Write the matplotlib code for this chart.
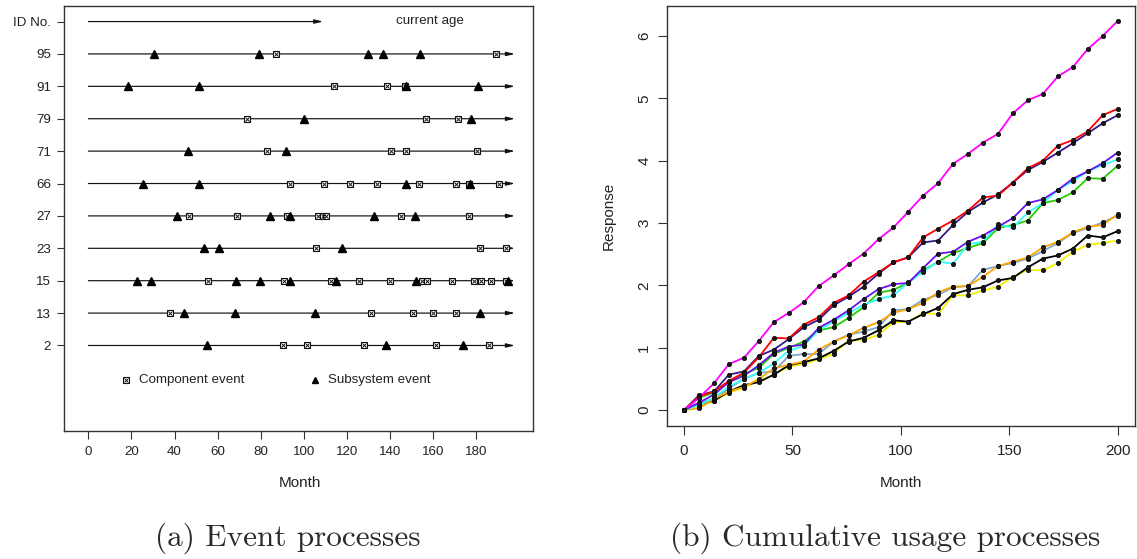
import matplotlib
matplotlib.use("Agg")
import matplotlib.pyplot as plt

plt.rcParams['font.family'] = ['Liberation Sans', 'DejaVu Sans']

# ---------------- Panel (a): event processes ----------------
unit_ids = ['2', '13', '15', '23', '27', '66', '71', '79', '91', '95']
component_events = [
    [90.2, 101.5, 127.9, 161.2, 185.8],
    [38.1, 131.0, 150.7, 160.0, 170.8],
    [55.5, 90.8, 112.5, 125.8, 140.0, 154.7, 157.2, 168.9, 179.1, 182.2, 186.7, 193.8],
    [105.5, 181.8, 193.7],
    [46.7, 69.0, 92.0, 106.7, 108.8, 110.5, 145.0, 176.5],
    [93.8, 109.2, 121.6, 134.0, 153.6, 170.5, 176.5, 190.7],
    [83.0, 140.5, 147.4, 180.2],
    [73.5, 156.6, 171.4],
    [114.2, 138.5, 147.1],
    [87.1, 189.2],
]
subsystem_events = [
    [55.2, 138.1, 174.0],
    [44.3, 68.2, 105.2, 181.8],
    [22.4, 29.2, 68.4, 79.8, 93.6, 114.9, 152.1, 194.6],
    [53.8, 60.5, 117.9],
    [41.3, 84.3, 93.6, 132.7, 151.5],
    [25.5, 51.4, 147.6, 177.2],
    [46.4, 91.8],
    [100.1, 177.6],
    [18.3, 51.5, 147.6, 180.8],
    [30.5, 79.4, 129.6, 136.6, 154.1],
]
current_age = [198, 198, 198, 198, 198, 198, 198, 198, 198, 198]
header_label = 'ID No.'
x_ticks_a = [0, 20, 40, 60, 80, 100, 120, 140, 160, 180]

# ---------------- Panel (b): cumulative usage ----------------
months_b = [0, 6.9, 13.8, 20.7, 27.6, 34.5, 41.4, 48.3, 55.2, 62.1, 69.0, 75.9,
            82.8, 89.7, 96.6, 103.4, 110.3, 117.2, 124.1, 131.0, 137.9, 144.8,
            151.7, 158.6, 165.5, 172.4, 179.3, 186.2, 193.1, 200.0]
usage_magenta = [0, 0.20, 0.43, 0.74, 0.84, 1.11, 1.41, 1.56, 1.73, 1.99, 2.16, 2.34, 2.51, 2.74, 2.93,
                 3.18, 3.44, 3.64, 3.95, 4.11, 4.29, 4.43, 4.76, 4.97, 5.07, 5.35, 5.50, 5.79, 6.00, 6.24]
usage_red = [0, 0.22, 0.30, 0.47, 0.60, 0.85, 1.16, 1.15, 1.37, 1.49, 1.72, 1.84, 2.06, 2.21, 2.37,
             2.45, 2.77, 2.91, 3.04, 3.20, 3.41, 3.44, 3.65, 3.88, 4.00, 4.24, 4.33, 4.47, 4.73, 4.83]
usage_darkblue = [0, 0.24, 0.30, 0.57, 0.62, 0.87, 0.97, 1.14, 1.33, 1.45, 1.68, 1.82, 1.98, 2.19, 2.37,
                  2.45, 2.69, 2.72, 2.97, 3.18, 3.33, 3.46, 3.65, 3.85, 3.98, 4.13, 4.28, 4.44, 4.60, 4.73]
usage_violet = [0, 0.12, 0.25, 0.45, 0.55, 0.72, 0.92, 1.02, 1.05, 1.32, 1.45, 1.60, 1.78, 1.94, 2.02,
                2.04, 2.28, 2.51, 2.54, 2.70, 2.80, 2.94, 3.08, 3.32, 3.38, 3.53, 3.71, 3.83, 3.96, 4.13]
usage_cyan = [0, 0.08, 0.20, 0.38, 0.50, 0.60, 0.75, 0.95, 1.03, 1.28, 1.42, 1.56, 1.69, 1.78, 1.84,
              2.05, 2.22, 2.38, 2.35, 2.66, 2.70, 2.98, 2.93, 3.17, 3.32, 3.53, 3.67, 3.83, 3.93, 4.02]
usage_green = [0, 0.20, 0.28, 0.45, 0.58, 0.68, 0.90, 1.00, 1.10, 1.28, 1.33, 1.48, 1.65, 1.88, 1.93,
               2.04, 2.24, 2.38, 2.52, 2.60, 2.68, 2.92, 2.97, 3.04, 3.32, 3.37, 3.49, 3.72, 3.71, 3.92]
usage_orange = [0, 0.03, 0.18, 0.30, 0.37, 0.50, 0.67, 0.73, 0.78, 0.97, 1.10, 1.20, 1.32, 1.41, 1.56,
                1.62, 1.72, 1.89, 1.98, 1.99, 2.14, 2.31, 2.38, 2.45, 2.61, 2.70, 2.85, 2.94, 2.97, 3.14]
usage_steel = [0, 0.12, 0.18, 0.35, 0.50, 0.60, 0.62, 0.87, 0.90, 0.90, 1.10, 1.21, 1.26, 1.33, 1.60,
               1.62, 1.77, 1.85, 1.97, 1.99, 2.25, 2.31, 2.36, 2.43, 2.55, 2.68, 2.84, 2.92, 3.01, 3.12]
usage_black = [0, 0.10, 0.15, 0.30, 0.40, 0.45, 0.57, 0.72, 0.77, 0.83, 0.95, 1.10, 1.16, 1.28, 1.44,
               1.42, 1.54, 1.64, 1.86, 1.93, 1.97, 2.08, 2.12, 2.29, 2.43, 2.48, 2.59, 2.80, 2.77, 2.87]
usage_yellow = [0, 0.05, 0.15, 0.28, 0.36, 0.47, 0.57, 0.70, 0.74, 0.82, 0.90, 1.12, 1.12, 1.21, 1.41,
                1.41, 1.56, 1.54, 1.84, 1.84, 1.92, 1.98, 2.14, 2.25, 2.24, 2.36, 2.54, 2.65, 2.68, 2.72]
series_b = [usage_yellow, usage_black, usage_steel, usage_orange, usage_green,
            usage_cyan, usage_violet, usage_darkblue, usage_red, usage_magenta]
colors_b = ['#F2F200', '#000000', '#7FA8CC', '#FFA500', '#22CC00',
            '#33FFFF', '#6A10F5', '#35178A', '#FF0000', '#FF00FF']

W, H = 1137, 559
fig = plt.figure(figsize=(W / 100, H / 100), dpi=100)
edge = '#333333'
tc = '#222222'

# ---- panel a ----
axL = fig.add_axes([64 / W, 1 - 431 / H, (533 - 64) / W, (431 - 6) / H])
axL.set_xlim(-11.3, 206.4)
axL.set_ylim(-1.64, 11.48)
n = len(unit_ids)
arrow_style = '-|>,head_length=0.5,head_width=0.12'
for k in range(n):
    y = k + 1
    axL.annotate('', xy=(current_age[k], y), xytext=(0, y),
                 arrowprops=dict(arrowstyle=arrow_style, lw=0.85, color='#111111',
                                 shrinkA=0, shrinkB=0))
    ce = component_events[k]
    axL.plot(ce, [y] * len(ce), linestyle='none', marker='s', ms=4.9,
             mfc='white', mec='#111111', mew=0.8, zorder=3)
    axL.plot(ce, [y] * len(ce), linestyle='none', marker='x', ms=3.5,
             mec='#111111', mew=0.7, zorder=4)
    se = subsystem_events[k]
    axL.plot(se, [y] * len(se), linestyle='none', marker='^', ms=5.3,
             mfc='black', mec='black', zorder=5)
axL.annotate('', xy=(109, 11), xytext=(0, 11),
             arrowprops=dict(arrowstyle=arrow_style, lw=0.85, color='#111111',
                             shrinkA=0, shrinkB=0))
axL.text(158.6, 11.02, 'current age', ha='center', va='center', fontsize=9.6, color=tc)
# legend row
ly = -0.06
axL.plot([17.6], [ly], linestyle='none', marker='s', ms=4.3, mfc='white', mec='#111111', mew=0.8)
axL.plot([17.6], [ly], linestyle='none', marker='x', ms=3.0, mec='#111111', mew=0.7)
axL.text(23.5, ly, 'Component event', ha='left', va='center', fontsize=9.6, color=tc)
axL.plot([105.2], [ly], linestyle='none', marker='^', ms=4.6, mfc='black', mec='black')
axL.text(111.1, ly, 'Subsystem event', ha='left', va='center', fontsize=9.6, color=tc)

axL.set_yticks(range(1, n + 2))
axL.set_yticklabels(unit_ids + [header_label])
axL.set_xticks(x_ticks_a)
axL.set_xticklabels([str(v) for v in x_ticks_a])
axL.tick_params(axis='y', direction='out', length=5.3, width=0.8, pad=4,
                labelsize=9.6, colors=edge, labelcolor=tc)
axL.tick_params(axis='x', direction='out', length=6, width=0.8, pad=5,
                labelsize=9.6, colors=edge, labelcolor=tc)
for s in axL.spines.values():
    s.set_color(edge)
    s.set_linewidth(1.0)

# ---- panel b ----
axR = fig.add_axes([666.7 / W, 1 - 425.7 / H, (1135 - 666.7) / W, 420 / H])
for vals, col in zip(series_b, colors_b):
    axR.plot(months_b, vals, color=col, lw=1.3, zorder=2)
for vals in series_b:
    axR.plot(months_b, vals, linestyle='none', marker='o', ms=3.1,
             mfc='#1a1a1a', mec='#000000', mew=0.5, zorder=3)
axR.set_xlim(-8, 208)
axR.set_ylim(-0.249, 6.485)
axR.set_xticks([0, 50, 100, 150, 200])
axR.set_yticks([0, 1, 2, 3, 4, 5, 6])
axR.tick_params(axis='both', direction='out', length=6.2, width=0.8,
                labelsize=11, colors=edge, labelcolor=tc)
axR.tick_params(axis='x', pad=7)
axR.tick_params(axis='y', pad=5)
for lab in axR.get_yticklabels():
    lab.set_rotation(90)
    lab.set_va('center')
for s in axR.spines.values():
    s.set_color(edge)
    s.set_linewidth(1.0)

# axis titles
fig.text(299.7 / W, 1 - 483 / H, 'Month', ha='center', va='center', fontsize=11, color=tc)
fig.text(900.7 / W, 1 - 483 / H, 'Month', ha='center', va='center', fontsize=11, color=tc)
fig.text(609 / W, 1 - 215.7 / H, 'Response', ha='center', va='center', rotation=90,
         fontsize=11, color=tc)

# captions
fig.text(288 / W, 1 - 538 / H, '(a) Event processes', ha='center', va='center',
         fontsize=22.5, family='cmr10', color='#2a2a2a')
fig.text(885 / W, 1 - 538 / H, '(b) Cumulative usage processes', ha='center', va='center',
         fontsize=22.5, family='cmr10', color='#2a2a2a')

fig.savefig('out.png', dpi=100)
